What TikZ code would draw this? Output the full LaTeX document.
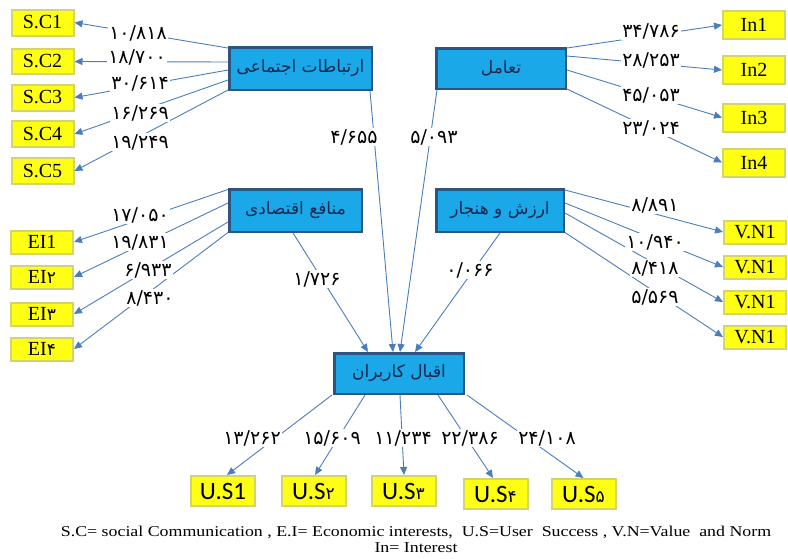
\documentclass[tikz,border=0pt]{standalone}
\usepackage{fontspec}
\setmainfont{Liberation Serif}
\newfontfamily\arabicfont[Script=Arabic]{DejaVu Sans}
\newfontfamily\calfont{Carlito}
\TeXXeTstate=1
\usetikzlibrary{arrows.meta,calc}
\definecolor{boxblue}{RGB}{26,168,232}
\definecolor{boxline}{RGB}{46,84,130}
\definecolor{yelfill}{RGB}{255,255,20}
\definecolor{yelline}{RGB}{212,212,110}
\definecolor{arrcol}{RGB}{74,126,187}
\definecolor{txtnavy}{RGB}{20,40,80}
\newcommand{\pdig}[1]{{\arabicfont\fontsize{17}{17}\selectfont #1}}
\begin{document}
\begin{tikzpicture}[x=1pt,y=-1pt,
 bluebox/.style={rectangle,draw=boxline,fill=boxblue,line width=2.5pt,inner sep=0pt,text=txtnavy,font=\arabicfont\fontsize{17}{19}\selectfont},
 yelbox/.style={rectangle,draw=yelline,fill=yelfill,line width=2pt,inner sep=0pt,minimum width=62pt,font=\fontsize{20}{22}\selectfont},
 usbox/.style={yelbox,minimum width=64pt,minimum height=30pt,font=\calfont\fontsize{25}{27}\selectfont},
 conn/.style={draw=arrcol,line width=0.9pt,-{Triangle[length=8pt,width=7pt]}},
 lab/.style={fill=white,inner sep=1pt,font=\arabicfont\fontsize{19}{20}\selectfont}]
\useasboundingbox (0,0) rectangle (788,558);
% blue boxes
\node[bluebox,minimum width=142.5pt,minimum height=42.5pt] (asoc) at (300.5,68.5) {\beginR ارتباطات اجتماعی\endR};
\node[bluebox,minimum width=129.5pt,minimum height=40.5pt] (tam) at (501,68.5) {\beginR تعامل\endR};
\node[bluebox,minimum width=132.5pt,minimum height=42.5pt] (man) at (295.5,210.5) {\beginR منافع اقتصادی\endR};
\node[bluebox,minimum width=127.5pt,minimum height=42.5pt] (arz) at (500,210.5) {\beginR ارزش و هنجار\endR};
\node[bluebox,minimum width=129.5pt,minimum height=40.5pt] (eqb) at (399,373.5) {\beginR اقبال کاربران\endR};
% S.C boxes
\node[yelbox,minimum height=26pt] (sc1) at (42.5,22.5) {S.C1};
\node[yelbox,minimum height=25pt] (sc2) at (42.5,61.5) {S.C2};
\node[yelbox,minimum height=26pt] (sc3) at (42.5,97.5) {S.C3};
\node[yelbox,minimum height=26pt] (sc4) at (42.5,134) {S.C4};
\node[yelbox,minimum height=26pt] (sc5) at (42.5,171) {S.C5};
% In boxes
\node[yelbox,minimum height=28pt] (in1) at (754,25) {In1};
\node[yelbox,minimum height=28pt] (in2) at (754,70) {In2};
\node[yelbox,minimum height=28pt] (in3) at (754,117.5) {In3};
\node[yelbox,minimum height=28pt] (in4) at (754,162.5) {In4};
% EI boxes
\node[yelbox,minimum height=23pt] (ei1) at (42,242) {EI1};
\node[yelbox,minimum height=23pt] (ei2) at (42,277) {EI\pdig{۲}};
\node[yelbox,minimum height=23pt] (ei3) at (42,314) {EI\pdig{۳}};
\node[yelbox,minimum height=23pt] (ei4) at (42,349) {EI\pdig{۴}};
% VN boxes
\node[yelbox,minimum height=23pt] (vn1) at (755,232) {V.N1};
\node[yelbox,minimum height=23pt] (vn2) at (755,267) {V.N1};
\node[yelbox,minimum height=23pt] (vn3) at (755,302) {V.N1};
\node[yelbox,minimum height=23pt] (vn4) at (755,337) {V.N1};
% US boxes
\node[usbox] (us1) at (223,491) {U.S1};
\node[usbox] (us2) at (313.5,491) {U.S\pdig{۲}};
\node[usbox] (us3) at (403.5,491) {U.S\pdig{۳}};
\node[usbox] (us4) at (495.5,494) {U.S\pdig{۴}};
\node[usbox] (us5) at (583.5,494) {U.S\pdig{۵}};
% connectors: social communication
\draw[conn] ([yshift=20.5pt]asoc.west) -- (sc1.east);
\draw[conn] ([yshift=6.5pt]asoc.west) -- (sc2.east);
\draw[conn] ([yshift=-1.5pt]asoc.west) -- (sc3.east);
\draw[conn] ([yshift=-11.5pt]asoc.west) -- (sc4.east);
\draw[conn] ([yshift=-21.5pt]asoc.west) -- (sc5.east);
% interaction
\draw[conn] ([yshift=20.5pt]tam.east) -- (in1.west);
\draw[conn] ([yshift=12.5pt]tam.east) -- (in2.west);
\draw[conn] ([yshift=-1.5pt]tam.east) -- (in3.west);
\draw[conn] ([yshift=-20.5pt]tam.east) -- (in4.west);
% economic
\draw[conn] ([yshift=21pt]man.west) -- (ei1.east);
\draw[conn] ([yshift=7.5pt]man.west) -- (ei2.east);
\draw[conn] ([yshift=-11.5pt]man.west) -- (ei3.east);
\draw[conn] ([yshift=-22pt]man.west) -- (ei4.east);
% value and norm
\draw[conn] ([yshift=20.5pt]arz.east) -- (vn1.west);
\draw[conn] ([yshift=7.5pt]arz.east) -- (vn2.west);
\draw[conn] ([yshift=-2.5pt]arz.east) -- (vn3.west);
\draw[conn] ([yshift=-22pt]arz.east) -- (vn4.west);
% into acceptance
\draw[conn] ([xshift=-3pt]asoc.south east) -- ([xshift=-6pt]eqb.north);
\draw[conn] ([xshift=2pt]tam.south west) -- ([xshift=1pt]eqb.north);
\draw[conn] ([xshift=-2.5pt]man.south) -- ([xshift=-31pt]eqb.north);
\draw[conn] (arz.south) -- ([xshift=16pt]eqb.north);
% out of acceptance
\draw[conn] ([xshift=-1pt]eqb.south west) -- ([xshift=4pt]us1.north);
\draw[conn] ([xshift=-34pt]eqb.south) -- ([xshift=1.5pt]us2.north);
\draw[conn] ([xshift=1pt]eqb.south) -- ([xshift=0.5pt]us3.north);
\draw[conn] ([xshift=39pt]eqb.south) -- ([xshift=-2.5pt]us4.north);
\draw[conn] ([xshift=2pt]eqb.south east) -- (us5.north);
% labels
\node[lab] (l1) at (138,33) {۱۰/۸۱۸};
\node[lab] (l2) at (137,57) {۱۸/۷۰۰};
\node[lab] (l3) at (140,83) {۳۰/۶۱۴};
\node[lab] (l4) at (140,113) {۱۶/۲۶۹};
\node[lab] (l5) at (140,142) {۱۹/۲۴۹};
\node[lab] (l6) at (651,31) {۳۴/۷۸۶};
\node[lab] (l7) at (651,60) {۲۸/۲۵۳};
\node[lab] (l8) at (651,95) {۴۵/۰۵۳};
\node[lab] (l9) at (651,128) {۲۳/۰۲۴};
\node[lab] (l10) at (140,215) {۱۷/۰۵۰};
\node[lab] (l11) at (140,242) {۱۹/۸۳۱};
\node[lab] (l12) at (148,270) {۶/۹۳۳};
\node[lab] (l13) at (150,298) {۸/۴۳۰};
\node[lab] (l14) at (655,205) {۸/۸۹۱};
\node[lab] (l15) at (655,242) {۱۰/۹۴۰};
\node[lab] (l16) at (655,268) {۸/۴۱۸};
\node[lab] (l17) at (655,297) {۵/۵۶۹};
\node[lab] (l18) at (354,137) {۴/۶۵۵};
\node[lab] (l19) at (434,137) {۵/۰۹۳};
\node[lab] (l20) at (317,279) {۱/۷۲۶};
\node[lab] (l21) at (470,270) {۰/۰۶۶};
\node[lab] (l22) at (252,438) {۱۳/۲۶۲};
\node[lab] (l23) at (332,438) {۱۵/۶۰۹};
\node[lab] (l24) at (403,438) {۱۱/۲۳۴};
\node[lab] (l25) at (470,438) {۲۲/۳۸۶};
\node[lab] (l26) at (547,438) {۲۴/۱۰۸};
% caption
\node[align=center,inner sep=0pt,font=\fontsize{15}{16}\selectfont] (cap) at (416,539) {\scalebox{1.19}[1]{S.C= social Communication , E.I= Economic interests,\ \ U.S=User\ \ Success , V.N=Value\ \ and Norm}\\\scalebox{1.19}[1]{In= Interest}};
\end{tikzpicture}
\end{document}
